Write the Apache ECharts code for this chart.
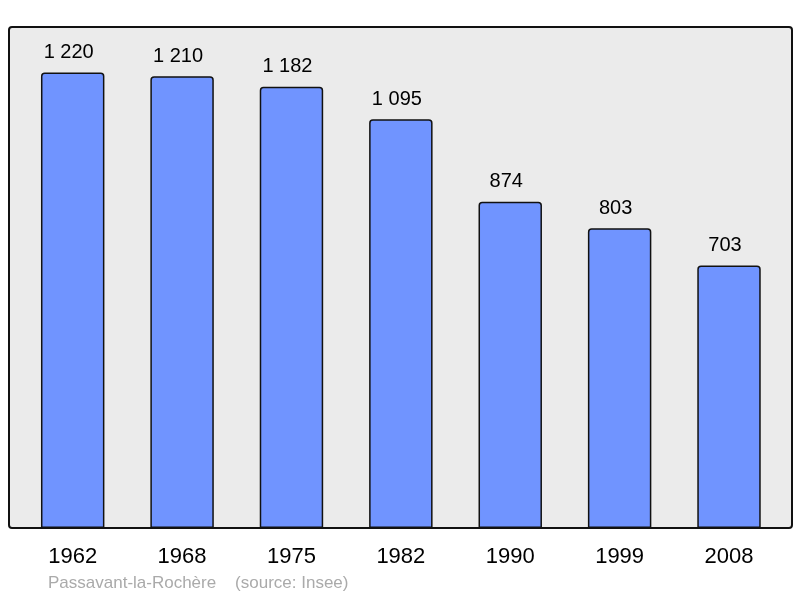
<!DOCTYPE html>
<html><head><meta charset="utf-8">
<script src="https://cdn.jsdelivr.net/npm/echarts@6/dist/echarts.min.js"></script>
<style>html,body{margin:0;padding:0;background:#fff}#c{width:800px;height:598px}</style>
</head><body><div id="c"></div>
<script>
const categories = ['1962','1968','1975','1982','1990','1999','2008'];
const population = [1220,1210,1182,1095,874,803,703];
const sourceText = 'Passavant-la-Rochère    (source: Insee)';

const chart = echarts.init(document.getElementById('c'), null, {renderer:'canvas'});
const fmt = v => String(v).replace(/\B(?=(\d{3})+(?!\d))/g, ' ');
chart.setOption({
  animation:false,
  backgroundColor:'#ffffff',
  textStyle:{fontFamily:'Liberation Sans'},
  grid:{left:18, right:16.3, top:27, bottom:70, containLabel:false},
  xAxis:{type:'category', data:categories,
    axisLine:{show:false}, axisTick:{show:false},
    axisLabel:{fontSize:22, color:'#000', margin:18, fontFamily:'Liberation Sans'}},
  yAxis:{type:'value', min:0, max:1342, show:false, splitLine:{show:false}},
  graphic:[
    {type:'rect', z:-10, shape:{x:9,y:27,width:783,height:501,r:3}, style:{fill:'#ebebeb', stroke:null}},
    {type:'rect', z:100, shape:{x:9,y:27,width:783,height:501,r:3}, style:{fill:null, stroke:'#111', lineWidth:2}},
    {type:'text', left:48, top:575, style:{text:sourceText, fill:'#aaaaaa', fontSize:17, fontFamily:'Liberation Sans'}}
  ],
  series:[{type:'bar', data:population, barCategoryGap:'42%',
    itemStyle:{color:'#7094ff', borderColor:'#111', borderWidth:1.5, borderRadius:[3,3,0,0]},
    label:{show:true, position:'top', distance:10, offset:[-4,0], fontSize:20, color:'#000', fontFamily:'Liberation Sans', formatter:p=>fmt(p.value)}
  }]
});
</script></body></html>
